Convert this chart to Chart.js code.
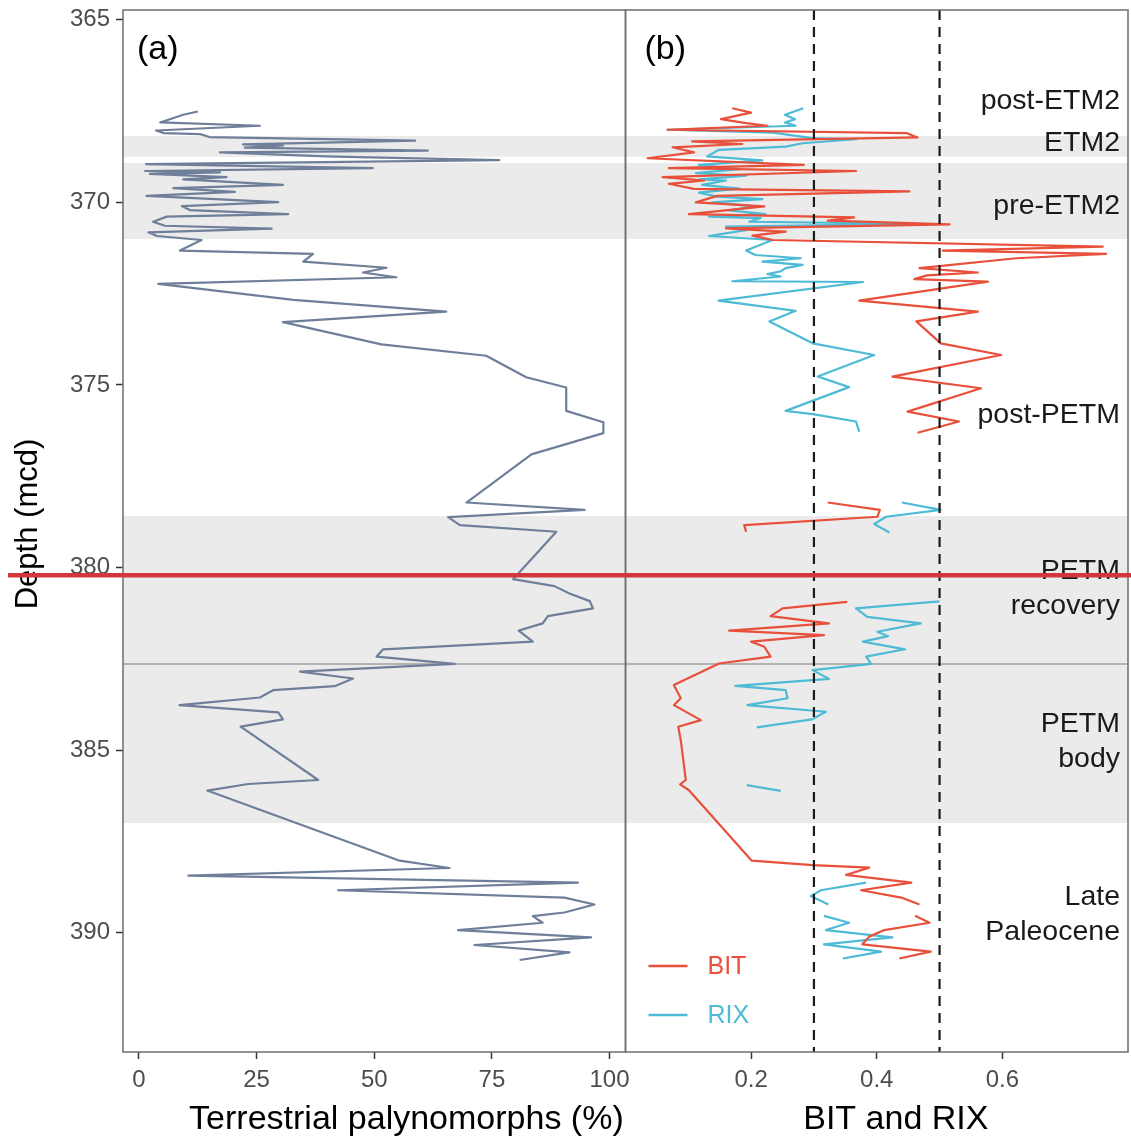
<!DOCTYPE html>
<html>
<head>
<meta charset="utf-8">
<script src="https://cdn.jsdelivr.net/npm/chart.js@4"></script>
<style>
  html, body { margin: 0; padding: 0; background: #ffffff; }
  #wrap { width: 1131px; height: 1144px; }
</style>
</head>
<body>
<div id="wrap"><canvas id="c" width="1131" height="1144"></canvas></div>
<script>
// ---------- data ----------
const palyDepth = [367.51,367.60,367.81,367.90,368.03,368.10,368.13,368.21,368.31,368.41,368.44,368.50,368.58,368.63,368.74,368.76,368.84,368.95,369.06,369.14,369.18,369.22,369.31,369.37,369.52,369.61,369.71,369.82,369.99,370.10,370.21,370.32,370.39,370.53,370.64,370.72,370.82,370.92,371.03,371.32,371.41,371.62,371.79,371.92,372.05,372.23,372.67,372.99,373.28,373.89,374.20,374.79,375.07,375.71,376.02,376.32,376.90,378.22,378.42,378.62,378.84,379.02,380.32,380.51,380.71,380.92,381.12,381.33,381.53,381.73,382.03,382.24,382.44,382.64,382.85,383.04,383.25,383.36,383.56,383.77,383.97,384.16,384.36,385.82,385.93,386.11,388.03,388.23,388.44,388.63,388.84,389.04,389.23,389.45,389.55,389.73,389.93,390.13,390.34,390.54,390.75];
const palyValue = [12.5,9.4,4.5,25.7,3.6,5.2,13.0,15.0,58.7,22.1,30.6,22.5,61.4,17.2,39.8,46.6,76.6,1.5,49.7,1.3,17.2,2.3,18.6,9.4,30.6,7.3,20.4,1.6,29.6,9.1,10.8,31.7,5.9,3.0,5.5,28.2,2.0,3.8,13.3,8.7,37.0,34.9,52.6,47.6,54.7,4.1,32.8,65.3,30.6,51.5,73.8,82.3,90.8,90.8,98.7,98.7,83.4,69.6,94.7,65.7,68.2,88.7,79.5,88.3,91.5,95.8,96.5,86.9,85.8,80.7,83.7,51.9,50.5,67.1,34.2,45.5,41.6,28.5,25.7,8.6,29.6,30.6,21.6,38.1,23.2,14.5,55.4,66.0,10.5,93.3,42.3,90.4,96.8,90.4,83.7,85.8,67.8,96.1,71.3,91.5,80.9];

// null values mark gaps in the record
const bitDepth = [367.42,367.54,367.72,367.83,367.90,368.01,368.10,368.22,368.33,368.40,368.49,368.63,368.79,368.97,369.06,369.14,369.31,369.40,369.49,369.63,369.70,369.82,370.00,370.11,370.32,370.41,370.50,370.60,370.71,370.80,370.91,371.03,371.21,371.32,371.41,371.53,371.80,371.92,372.00,372.10,372.17,372.69,372.99,373.26,373.86,374.18,374.77,375.09,375.73,376.00,376.31,377.2,378.22,378.42,378.61,378.84,379.02,380.0,380.94,381.12,381.33,381.53,381.73,381.85,382.03,382.17,382.44,382.63,383.22,383.58,383.77,384.18,384.36,384.73,385.82,385.94,386.10,388.03,388.15,388.22,388.42,388.63,388.84,389.04,389.23,389.4,389.54,389.73,389.93,390.11,390.32,390.52,390.71];
const bitValue = [0.170,0.200,0.152,0.192,0.226,0.067,0.447,0.465,0.106,0.186,0.075,0.109,0.035,0.284,0.069,0.367,0.059,0.125,0.069,0.109,0.452,0.146,0.112,0.221,0.101,0.364,0.322,0.516,0.160,0.255,0.202,0.234,0.760,0.505,0.765,0.622,0.468,0.561,0.480,0.460,0.577,0.372,0.561,0.463,0.502,0.598,0.425,0.566,0.449,0.531,0.465,null,0.322,0.405,0.401,0.189,0.192,null,0.353,0.250,0.231,0.324,0.165,0.316,0.200,0.221,0.231,0.149,0.077,0.088,0.077,0.120,0.084,0.088,0.096,0.087,0.101,0.201,0.298,0.388,0.351,0.455,0.375,0.439,0.468,null,0.461,0.484,0.412,0.388,0.377,0.486,0.436];

const rixDepth = [367.42,367.60,367.72,367.81,367.90,368.01,368.09,368.24,368.27,368.38,368.47,368.56,368.74,368.85,368.97,369.09,369.20,369.27,369.37,369.40,369.52,369.62,369.73,369.84,369.91,370.00,370.11,370.22,370.32,370.39,370.43,370.53,370.59,370.66,370.75,370.92,371.03,371.32,371.44,371.53,371.62,371.71,371.80,371.89,371.96,372.03,372.16,372.18,372.69,372.97,373.26,373.86,374.18,374.77,375.06,375.71,375.80,376.00,376.28,377.2,378.22,378.42,378.61,378.81,379.04,380.0,380.93,381.12,381.35,381.53,381.76,381.88,382.03,382.24,382.44,382.64,382.81,383.05,383.24,383.36,383.58,383.77,383.95,384.16,384.38,385.2,385.96,386.12,387.5,388.63,388.84,389.00,389.23,389.4,389.54,389.73,389.93,390.13,390.32,390.52,390.71];
const rixValue = [0.283,0.254,0.270,0.254,0.271,0.067,0.234,0.298,0.367,0.282,0.255,0.149,0.130,0.218,0.117,0.181,0.112,0.192,0.117,0.160,0.122,0.181,0.117,0.146,0.218,0.138,0.207,0.165,0.223,0.133,0.215,0.197,0.470,0.160,0.194,0.133,0.234,0.192,0.207,0.279,0.218,0.282,0.255,0.247,0.226,0.247,0.170,0.378,0.148,0.271,0.229,0.298,0.396,0.306,0.356,0.255,0.298,0.367,0.372,null,0.440,0.502,0.415,0.396,0.420,null,0.500,0.367,0.385,0.470,0.401,0.418,0.378,0.445,0.383,0.391,0.298,0.324,0.175,0.255,0.258,0.194,0.319,0.297,0.209,null,0.193,0.247,null,0.383,0.311,0.295,0.323,null,0.316,0.356,0.319,0.425,0.316,0.407,0.346];

const depthTicks = [365, 370, 375, 380, 385, 390];
const palyTicks = [0, 25, 50, 75, 100];
const indexTicks = [0.2, 0.4, 0.6];
const refLines = [0.3, 0.5];

const bandTop = [368.18, 368.92, 378.59, 382.64];
const bandBottom = [368.75, 371.00, 382.64, 387.00];
const boundaryDepth = 382.64;

const regionLabels = ['post-ETM2', 'ETM2', 'pre-ETM2', 'post-PETM', 'PETM\nrecovery', 'PETM\nbody', 'Late\nPaleocene'];
const regionDepths = [367.24, 368.39, 370.09, 375.84, 380.57, 384.76, 389.50];

const markDepth = 380.21;

// ---------- chart ----------
const FONT = "'Liberation Sans', Arial, sans-serif";
const toPts = (d, v) => d.map((y, i) => ({ x: v[i], y: y }));
const noPad = s => { s.paddingTop = 0; s.paddingBottom = 0; s.paddingLeft = 0; s.paddingRight = 0; };

const decor = {
  id: 'decor',
  beforeDatasetsDraw(chart) {
    const { ctx, chartArea: a, scales } = chart;
    const y = scales.y;
    ctx.save();
    ctx.fillStyle = '#EBEBEB';
    bandTop.forEach((t, i) => {
      const y1 = y.getPixelForValue(t), y2 = y.getPixelForValue(bandBottom[i]);
      ctx.fillRect(a.left, y1, a.right - a.left, y2 - y1);
    });
    ctx.strokeStyle = '#B3B3B3';
    ctx.lineWidth = 2;
    const yb = y.getPixelForValue(boundaryDepth);
    ctx.beginPath(); ctx.moveTo(a.left, yb); ctx.lineTo(a.right, yb); ctx.stroke();
    ctx.restore();
  },
  afterDatasetsDraw(chart) {
    const { ctx, chartArea: a, scales } = chart;
    const { y, xL, xR } = scales;
    ctx.save();
    // reference lines
    ctx.strokeStyle = '#1A1A1A';
    ctx.lineWidth = 2.2;
    ctx.setLineDash([10, 7]);
    refLines.forEach(v => {
      const x = xR.getPixelForValue(v);
      ctx.beginPath(); ctx.moveTo(x, a.top); ctx.lineTo(x, a.bottom); ctx.stroke();
    });
    ctx.setLineDash([]);
    // panel borders
    ctx.strokeStyle = '#6E6E6E';
    ctx.lineWidth = 1.5;
    [xL, xR].forEach(s => ctx.strokeRect(s.left, a.top, s.right - s.left, a.bottom - a.top));
    // panel letters
    ctx.fillStyle = '#000000';
    ctx.font = '34px ' + FONT;
    ctx.textBaseline = 'middle';
    ctx.textAlign = 'left';
    ctx.fillText('(a)', xL.left + 14, a.top + 40);
    ctx.fillText('(b)', xR.left + 19, a.top + 40);
    // region labels
    ctx.fillStyle = '#1A1A1A';
    ctx.font = '28.5px ' + FONT;
    ctx.textAlign = 'right';
    regionLabels.forEach((lab, i) => {
      const lines = lab.split('\n');
      const yc = y.getPixelForValue(regionDepths[i]);
      const lh = 35;
      lines.forEach((ln, j) => {
        ctx.fillText(ln, xR.right - 8, yc + (j - (lines.length - 1) / 2) * lh);
      });
    });
    // legend
    ctx.font = '25px ' + FONT;
    ctx.textAlign = 'left';
    [1, 2].forEach((di, k) => {
      const ds = chart.data.datasets[di];
      const yy = a.bottom - 86 + k * 49;
      ctx.strokeStyle = ds.borderColor;
      ctx.lineWidth = 2.5;
      ctx.beginPath(); ctx.moveTo(xR.left + 23, yy); ctx.lineTo(xR.left + 62, yy); ctx.stroke();
      ctx.fillStyle = ds.borderColor;
      ctx.fillText(ds.label, xR.left + 82, yy + 1);
    });
    ctx.restore();
  },
  afterDraw(chart) {
    const { ctx, chartArea: a, scales } = chart;
    const { y, xL, xR } = scales;
    ctx.save();
    // axis titles
    ctx.fillStyle = '#000000';
    ctx.font = '34px ' + FONT;
    ctx.textAlign = 'center';
    ctx.textBaseline = 'middle';
    ctx.fillText('Terrestrial palynomorphs (%)', xL.left + (xL.right - xL.left) * 0.564, chart.height - 24);
    ctx.fillText('BIT and RIX', xR.left + (xR.right - xR.left) * 0.538, chart.height - 24);
    ctx.translate(28, (a.top + a.bottom) / 2 - 7);
    ctx.rotate(-Math.PI / 2);
    ctx.font = '31px ' + FONT;
    ctx.fillText('Depth (mcd)', 0, 0);
    ctx.restore();
    // highlight line
    ctx.save();
    const ym = y.getPixelForValue(markDepth);
    ctx.strokeStyle = '#D2373C';
    ctx.lineWidth = 4.5;
    ctx.beginPath(); ctx.moveTo(8, ym); ctx.lineTo(chart.width, ym); ctx.stroke();
    ctx.restore();
  }
};

const tickFont = { family: FONT, size: 24 };
const gridCfg = { drawOnChartArea: false, drawTicks: true, tickLength: 7, tickColor: '#333333', tickWidth: 1.5 };

new Chart(document.getElementById('c'), {
  type: 'line',
  data: {
    datasets: [
      { label: 'Terrestrial palynomorphs', data: toPts(palyDepth, palyValue), xAxisID: 'xL', yAxisID: 'y',
        borderColor: '#6F7F99', borderWidth: 2.2 },
      { label: 'BIT', data: toPts(bitDepth, bitValue), xAxisID: 'xR', yAxisID: 'y',
        borderColor: '#E8503C', borderWidth: 2.2 },
      { label: 'RIX', data: toPts(rixDepth, rixValue), xAxisID: 'xR', yAxisID: 'y',
        borderColor: '#4DBBD5', borderWidth: 2.2 }
    ]
  },
  options: {
    responsive: false,
    animation: false,
    devicePixelRatio: 1,
    spanGaps: false,
    layout: { padding: { top: 10, right: 3, left: 0, bottom: 0 } },
    elements: { point: { radius: 0, hoverRadius: 0 }, line: { tension: 0, borderJoinStyle: 'round' } },
    plugins: { legend: { display: false }, tooltip: { enabled: false } },
    scales: {
      xL: {
        type: 'linear', position: 'bottom', stack: 'panels', stackWeight: 1, weight: 0,
        min: -3.4, max: 103.4,
        afterBuildTicks: s => { s.ticks = palyTicks.map(v => ({ value: v })); },
        afterFit: s => { s.height = 92; noPad(s); },
        ticks: { color: '#4D4D4D', font: tickFont, padding: 7, autoSkip: false, maxRotation: 0, callback: v => String(v) },
        grid: gridCfg, border: { display: false }
      },
      xR: {
        type: 'linear', position: 'bottom', stack: 'panels', stackWeight: 1, weight: 1,
        min: 0, max: 0.8,
        afterBuildTicks: s => { s.ticks = indexTicks.map(v => ({ value: v })); },
        afterFit: s => { s.height = 92; noPad(s); },
        ticks: { color: '#4D4D4D', font: tickFont, padding: 7, autoSkip: false, maxRotation: 0, callback: v => Number(v).toFixed(1) },
        grid: gridCfg, border: { display: false }
      },
      y: {
        type: 'linear', position: 'left', reverse: true,
        min: 364.73, max: 393.27,
        afterBuildTicks: s => { s.ticks = depthTicks.map(v => ({ value: v })); },
        afterFit: s => { s.width = 123; noPad(s); },
        ticks: { color: '#4D4D4D', font: tickFont, padding: 6, autoSkip: false, callback: v => String(v) },
        grid: gridCfg, border: { display: false }
      }
    }
  },
  plugins: [decor]
});
</script>
</body>
</html>
